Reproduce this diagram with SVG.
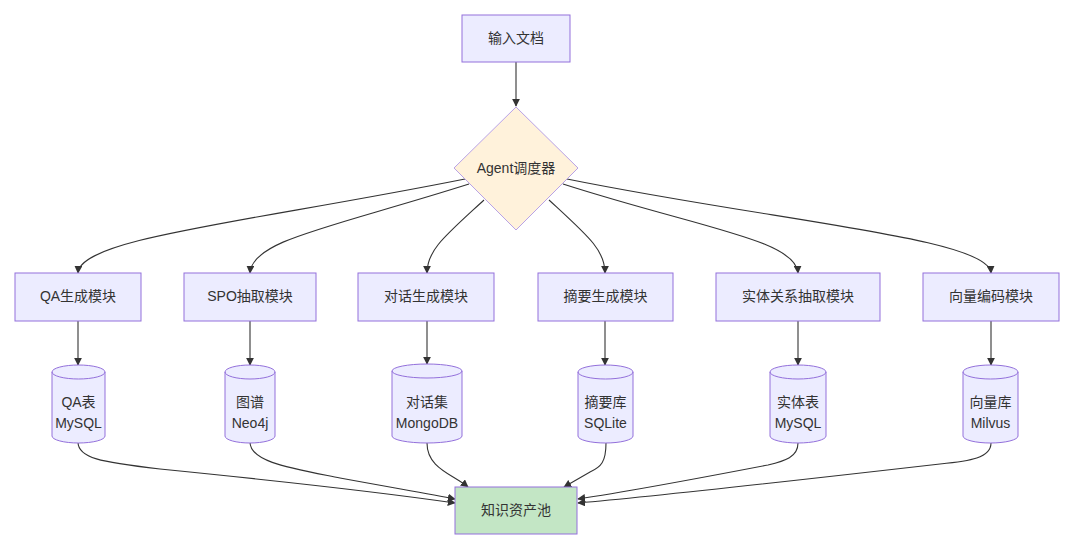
<svg xmlns="http://www.w3.org/2000/svg" width="1080" height="546" viewBox="0 0 1080 546">
<style>
text{font-family:"Liberation Sans","Noto Sans CJK SC",sans-serif;font-size:14px;fill:#333;text-anchor:middle}
.box{fill:#ECECFF;stroke:#9370DB;stroke-width:1}
.db{fill:#ECECFF;stroke:#9370DB;stroke-width:1}
.edge{fill:none;stroke:#333;stroke-width:1.1}
</style>
<defs>
<marker id="arr" viewBox="0 0 10 10" refX="9" refY="5" markerUnits="userSpaceOnUse" markerWidth="8" markerHeight="8" orient="auto">
<path d="M0,0 L10,5 L0,10 z" fill="#333"/>
</marker>
</defs>
<rect width="1080" height="546" fill="#fff"/>
<g id="connectors">
<path class="edge" marker-end="url(#arr)" d="M516,62 L516,106"/>
<path class="edge" marker-end="url(#arr)" d="M465,179 C250,222 80,238 78,273"/>
<path class="edge" marker-end="url(#arr)" d="M469,184 C330,228 252,240 250,273"/>
<path class="edge" marker-end="url(#arr)" d="M484,200 C445,236 427,250 427,273"/>
<path class="edge" marker-end="url(#arr)" d="M549,200 C588,236 605,250 605,273"/>
<path class="edge" marker-end="url(#arr)" d="M563,184 C700,228 796,240 798,273"/>
<path class="edge" marker-end="url(#arr)" d="M567,179 C780,222 989,238 991,273"/>
<path class="edge" marker-end="url(#arr)" d="M78,321 L78,365"/>
<path class="edge" marker-end="url(#arr)" d="M250,321 L250,365"/>
<path class="edge" marker-end="url(#arr)" d="M427,321 L427,364"/>
<path class="edge" marker-end="url(#arr)" d="M605,321 L605,365"/>
<path class="edge" marker-end="url(#arr)" d="M798,321 L798,365"/>
<path class="edge" marker-end="url(#arr)" d="M991,321 L991,365"/>
<path class="edge" marker-end="url(#arr)" d="M78,442 C78,458 100,462 160,469 C300,483 400,495 455,503"/>
<path class="edge" marker-end="url(#arr)" d="M250,442 C250,462 290,468 340,478 C400,489 430,494 455,499"/>
<path class="edge" marker-end="url(#arr)" d="M427,443 C427,468 452,474 468,487"/>
<path class="edge" marker-end="url(#arr)" d="M606,443 C606,462 601,467 590,472 L564,487"/>
<path class="edge" marker-end="url(#arr)" d="M798,443 C798,457 785,461 768,465 C690,480 625,492 578,499"/>
<path class="edge" marker-end="url(#arr)" d="M991,443 C991,458 970,461 940,464 C800,480 660,496 578,503"/>
</g>
<g id="input"><rect class="box" x="462" y="15" width="108" height="47"/><text x="516" y="43">输入文档</text></g>
<g id="agent"><path d="M516,107 L578,168 L516,230 L454,168 Z" fill="#FFF2DB" stroke="#B9A2E6" stroke-width="1"/><text x="516" y="173">Agent调度器</text></g>
<g id="m_qa"><rect class="box" x="15" y="273" width="126" height="48"/><text x="78" y="301">QA生成模块</text></g>
<g id="m_spo"><rect class="box" x="184" y="273" width="132" height="48"/><text x="250" y="301">SPO抽取模块</text></g>
<g id="m_dlg"><rect class="box" x="358" y="273" width="136" height="48"/><text x="426" y="301">对话生成模块</text></g>
<g id="m_sum"><rect class="box" x="538" y="273" width="135" height="48"/><text x="605.5" y="301">摘要生成模块</text></g>
<g id="m_ent"><rect class="box" x="716" y="273" width="164" height="48"/><text x="798" y="301">实体关系抽取模块</text></g>
<g id="m_vec"><rect class="box" x="923" y="273" width="136" height="48"/><text x="991" y="301">向量编码模块</text></g>
<g id="db_qa"><path class="db" d="M52,372 a26.5,7 0 0 0 53,0 a26.5,7 0 0 0 -53,0 l0,64 a26.5,7 0 0 0 53,0 l0,-64"/><text x="78.5" y="407">QA表</text><text x="78.5" y="428">MySQL</text></g>
<g id="db_kg"><path class="db" d="M225,372 a25,7 0 0 0 50,0 a25,7 0 0 0 -50,0 l0,64 a25,7 0 0 0 50,0 l0,-64"/><text x="250" y="407">图谱</text><text x="250" y="428">Neo4j</text></g>
<g id="db_dlg"><path class="db" d="M392,371 a35,7 0 0 0 70,0 a35,7 0 0 0 -70,0 l0,65 a35,7 0 0 0 70,0 l0,-65"/><text x="427" y="407">对话集</text><text x="427" y="428">MongoDB</text></g>
<g id="db_sum"><path class="db" d="M578,372 a27.5,7 0 0 0 55,0 a27.5,7 0 0 0 -55,0 l0,64 a27.5,7 0 0 0 55,0 l0,-64"/><text x="605.5" y="407">摘要库</text><text x="605.5" y="428">SQLite</text></g>
<g id="db_ent"><path class="db" d="M770,372 a28,7 0 0 0 56,0 a28,7 0 0 0 -56,0 l0,64 a28,7 0 0 0 56,0 l0,-64"/><text x="798" y="407">实体表</text><text x="798" y="428">MySQL</text></g>
<g id="db_vec"><path class="db" d="M963,372 a27.5,7 0 0 0 55,0 a27.5,7 0 0 0 -55,0 l0,64 a27.5,7 0 0 0 55,0 l0,-64"/><text x="990.5" y="407">向量库</text><text x="990.5" y="428">Milvus</text></g>
<g id="pool"><rect x="455" y="487" width="122" height="47" fill="#C3E6C5" stroke="#9370DB" stroke-width="1"/><text x="516" y="515">知识资产池</text></g>
</svg>
